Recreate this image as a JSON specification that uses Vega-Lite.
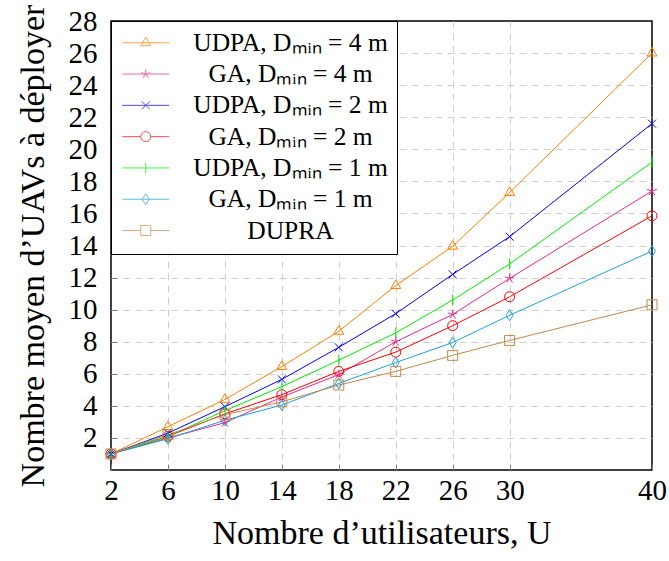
{
  "$schema": "https://vega.github.io/schema/vega-lite/v6.json",
  "autosize": {"type": "none"},
  "padding": {"left": 111, "top": 21, "right": 17, "bottom": 91},
  "width": 541,
  "height": 449,
  "background": "white",
  "config": {
    "font": "Liberation Serif",
    "view": {"stroke": "black", "strokeWidth": 1.5},
    "axis": {
      "labelFont": "Liberation Serif",
      "titleFont": "Liberation Serif",
      "labelColor": "black",
      "titleColor": "black",
      "titleFontWeight": "normal",
      "domain": false,
      "grid": true,
      "gridColor": "#cfcfcf",
      "gridDash": [7, 5],
      "gridWidth": 1,
      "tickColor": "#808080",
      "tickSize": -6
    }
  },
  "data": {
    "values": [
      {"s": "UDPA, Dₘᵢₙ = 4 m", "x": 2, "y": 1},
      {"s": "UDPA, Dₘᵢₙ = 4 m", "x": 6, "y": 2.7},
      {"s": "UDPA, Dₘᵢₙ = 4 m", "x": 10, "y": 4.4},
      {"s": "UDPA, Dₘᵢₙ = 4 m", "x": 14, "y": 6.45},
      {"s": "UDPA, Dₘᵢₙ = 4 m", "x": 18, "y": 8.65},
      {"s": "UDPA, Dₘᵢₙ = 4 m", "x": 22, "y": 11.5},
      {"s": "UDPA, Dₘᵢₙ = 4 m", "x": 26, "y": 13.95},
      {"s": "UDPA, Dₘᵢₙ = 4 m", "x": 30, "y": 17.3},
      {"s": "UDPA, Dₘᵢₙ = 4 m", "x": 40, "y": 26.0},
      {"s": "GA, Dₘᵢₙ = 4 m", "x": 2, "y": 1},
      {"s": "GA, Dₘᵢₙ = 4 m", "x": 6, "y": 2.0},
      {"s": "GA, Dₘᵢₙ = 4 m", "x": 10, "y": 2.95},
      {"s": "GA, Dₘᵢₙ = 4 m", "x": 14, "y": 4.55},
      {"s": "GA, Dₘᵢₙ = 4 m", "x": 18, "y": 5.95},
      {"s": "GA, Dₘᵢₙ = 4 m", "x": 22, "y": 8.0},
      {"s": "GA, Dₘᵢₙ = 4 m", "x": 26, "y": 9.7},
      {"s": "GA, Dₘᵢₙ = 4 m", "x": 30, "y": 11.95},
      {"s": "GA, Dₘᵢₙ = 4 m", "x": 40, "y": 17.4},
      {"s": "UDPA, Dₘᵢₙ = 2 m", "x": 2, "y": 1},
      {"s": "UDPA, Dₘᵢₙ = 2 m", "x": 6, "y": 2.3},
      {"s": "UDPA, Dₘᵢₙ = 2 m", "x": 10, "y": 3.95},
      {"s": "UDPA, Dₘᵢₙ = 2 m", "x": 14, "y": 5.65},
      {"s": "UDPA, Dₘᵢₙ = 2 m", "x": 18, "y": 7.65},
      {"s": "UDPA, Dₘᵢₙ = 2 m", "x": 22, "y": 9.75},
      {"s": "UDPA, Dₘᵢₙ = 2 m", "x": 26, "y": 12.2},
      {"s": "UDPA, Dₘᵢₙ = 2 m", "x": 30, "y": 14.55},
      {"s": "UDPA, Dₘᵢₙ = 2 m", "x": 40, "y": 21.6},
      {"s": "GA, Dₘᵢₙ = 2 m", "x": 2, "y": 1},
      {"s": "GA, Dₘᵢₙ = 2 m", "x": 6, "y": 2.1},
      {"s": "GA, Dₘᵢₙ = 2 m", "x": 10, "y": 3.5},
      {"s": "GA, Dₘᵢₙ = 2 m", "x": 14, "y": 4.7},
      {"s": "GA, Dₘᵢₙ = 2 m", "x": 18, "y": 6.15},
      {"s": "GA, Dₘᵢₙ = 2 m", "x": 22, "y": 7.35},
      {"s": "GA, Dₘᵢₙ = 2 m", "x": 26, "y": 9.0},
      {"s": "GA, Dₘᵢₙ = 2 m", "x": 30, "y": 10.8},
      {"s": "GA, Dₘᵢₙ = 2 m", "x": 40, "y": 15.85},
      {"s": "UDPA, Dₘᵢₙ = 1 m", "x": 2, "y": 1},
      {"s": "UDPA, Dₘᵢₙ = 1 m", "x": 6, "y": 2.1},
      {"s": "UDPA, Dₘᵢₙ = 1 m", "x": 10, "y": 3.7},
      {"s": "UDPA, Dₘᵢₙ = 1 m", "x": 14, "y": 5.2},
      {"s": "UDPA, Dₘᵢₙ = 1 m", "x": 18, "y": 6.85},
      {"s": "UDPA, Dₘᵢₙ = 1 m", "x": 22, "y": 8.55},
      {"s": "UDPA, Dₘᵢₙ = 1 m", "x": 26, "y": 10.6},
      {"s": "UDPA, Dₘᵢₙ = 1 m", "x": 30, "y": 12.85},
      {"s": "UDPA, Dₘᵢₙ = 1 m", "x": 40, "y": 19.2},
      {"s": "GA, Dₘᵢₙ = 1 m", "x": 2, "y": 1},
      {"s": "GA, Dₘᵢₙ = 1 m", "x": 6, "y": 1.95},
      {"s": "GA, Dₘᵢₙ = 1 m", "x": 10, "y": 3.1},
      {"s": "GA, Dₘᵢₙ = 1 m", "x": 14, "y": 4.05},
      {"s": "GA, Dₘᵢₙ = 1 m", "x": 18, "y": 5.4},
      {"s": "GA, Dₘᵢₙ = 1 m", "x": 22, "y": 6.7},
      {"s": "GA, Dₘᵢₙ = 1 m", "x": 26, "y": 7.95},
      {"s": "GA, Dₘᵢₙ = 1 m", "x": 30, "y": 9.65},
      {"s": "GA, Dₘᵢₙ = 1 m", "x": 40, "y": 13.65},
      {"s": "DUPRA", "x": 2, "y": 1},
      {"s": "DUPRA", "x": 6, "y": 2.2},
      {"s": "DUPRA", "x": 10, "y": 3.45},
      {"s": "DUPRA", "x": 14, "y": 4.25},
      {"s": "DUPRA", "x": 18, "y": 5.3},
      {"s": "DUPRA", "x": 22, "y": 6.15},
      {"s": "DUPRA", "x": 26, "y": 7.15},
      {"s": "DUPRA", "x": 30, "y": 8.08},
      {"s": "DUPRA", "x": 40, "y": 10.3}
    ]
  },
  "encoding": {
    "x": {
      "field": "x",
      "type": "quantitative",
      "scale": {"domain": [2, 40], "nice": false, "zero": false},
      "axis": {
        "values": [2, 6, 10, 14, 18, 22, 26, 30, 40],
        "title": "Nombre d’utilisateurs, U",
        "labelFontSize": 29,
        "titleFontSize": 34,
        "labelPadding": 12,
        "titlePadding": 11,
        "labelFlush": false,
        "gridOpacity": {"condition": {"test": "datum.value == 40 || datum.value == 2", "value": 0}, "value": 1}
      }
    },
    "y": {
      "field": "y",
      "type": "quantitative",
      "scale": {"domain": [0, 28], "nice": false},
      "axis": {
        "values": [2, 4, 6, 8, 10, 12, 14, 16, 18, 20, 22, 24, 26, 28],
        "title": "Nombre moyen d’UAVs à déployer",
        "labelFontSize": 29,
        "titleFontSize": 34,
        "labelPadding": 20,
        "titlePadding": 18,
        "labelFlush": false,
        "gridOpacity": {"condition": {"test": "datum.value == 28", "value": 0}, "value": 1}
      }
    }
  },
  "layer": [
    {
      "mark": {"type": "line", "strokeWidth": 1},
      "encoding": {
        "color": {
          "field": "s",
          "type": "nominal",
          "legend": null,
          "scale": {
            "domain": ["UDPA, Dₘᵢₙ = 4 m", "GA, Dₘᵢₙ = 4 m", "UDPA, Dₘᵢₙ = 2 m", "GA, Dₘᵢₙ = 2 m", "UDPA, Dₘᵢₙ = 1 m", "GA, Dₘᵢₙ = 1 m", "DUPRA"],
            "range": ["#FF8000", "#E8288C", "#0000FF", "#FF0000", "#00EE00", "#1CA0E0", "#C4874A"]
          }
        }
      }
    },
    {
      "mark": {"type": "point", "filled": false, "size": 100, "strokeWidth": 1, "opacity": 1},
      "encoding": {
        "color": {
          "field": "s",
          "type": "nominal",
          "legend": null,
          "scale": {
            "domain": ["UDPA, Dₘᵢₙ = 4 m", "GA, Dₘᵢₙ = 4 m", "UDPA, Dₘᵢₙ = 2 m", "GA, Dₘᵢₙ = 2 m", "UDPA, Dₘᵢₙ = 1 m", "GA, Dₘᵢₙ = 1 m", "DUPRA"],
            "range": ["#FF8000", "#E8288C", "#0000FF", "#FF0000", "#00EE00", "#1CA0E0", "#C4874A"]
          }
        },
        "shape": {
          "field": "s",
          "type": "nominal",
          "legend": null,
          "scale": {
            "domain": ["UDPA, Dₘᵢₙ = 4 m", "GA, Dₘᵢₙ = 4 m", "UDPA, Dₘᵢₙ = 2 m", "GA, Dₘᵢₙ = 2 m", "UDPA, Dₘᵢₙ = 1 m", "GA, Dₘᵢₙ = 1 m", "DUPRA"],
            "range": [
              "M0,-1.15L1,0.58L-1,0.58Z",
              "M0,0L0,-1M0,0L-0.95,-0.31M0,0L-0.59,0.81M0,0L0.59,0.81M0,0L0.95,-0.31",
              "M-0.8,-0.8L0.8,0.8M-0.8,0.8L0.8,-0.8",
              "M1,0A1,1,0,1,1,-1,0A1,1,0,1,1,1,0Z",
              "M0,-1.1L0,1.1",
              "M0,-1.1L0.7,0L0,1.1L-0.7,0Z",
              "M-1,-1H1V1H-1Z"
            ]
          }
        }
      }
    },
    {
      "transform": [{"filter": "datum.x < 0"}],
      "mark": {"type": "point", "filled": false, "size": 100, "strokeWidth": 1},
      "encoding": {
        "color": {
          "field": "s",
          "type": "nominal",
          "scale": {
            "domain": ["UDPA, Dₘᵢₙ = 4 m", "GA, Dₘᵢₙ = 4 m", "UDPA, Dₘᵢₙ = 2 m", "GA, Dₘᵢₙ = 2 m", "UDPA, Dₘᵢₙ = 1 m", "GA, Dₘᵢₙ = 1 m", "DUPRA"],
            "range": ["#FF8000", "#E8288C", "#0000FF", "#FF0000", "#00EE00", "#1CA0E0", "#C4874A"]
          },
          "legend": {
            "orient": "none", "legendX": 0, "legendY": 0, "title": null,
            "fillColor": "white", "strokeColor": "black", "padding": 9,
            "symbolOffset": 13, "labelOffset": 132, "labelAlign": "center",
            "labelFontSize": 25.5, "labelFont": "Liberation Serif", "labelColor": "black",
            "labelLimit": 400, "rowPadding": 4.3, "symbolSize": 100, "symbolStrokeWidth": 1
          }
        },
        "shape": {
          "field": "s",
          "type": "nominal",
          "scale": {
            "domain": ["UDPA, Dₘᵢₙ = 4 m", "GA, Dₘᵢₙ = 4 m", "UDPA, Dₘᵢₙ = 2 m", "GA, Dₘᵢₙ = 2 m", "UDPA, Dₘᵢₙ = 1 m", "GA, Dₘᵢₙ = 1 m", "DUPRA"],
            "range": [
              "M-4.7,0H4.7M0,-1.15L1,0.58L-1,0.58Z",
              "M-4.7,0H4.7M0,0L0,-1M0,0L-0.95,-0.31M0,0L-0.59,0.81M0,0L0.59,0.81M0,0L0.95,-0.31",
              "M-4.7,0H4.7M-0.8,-0.8L0.8,0.8M-0.8,0.8L0.8,-0.8",
              "M-4.7,0H-1M1,0H4.7M1,0A1,1,0,1,1,-1,0A1,1,0,1,1,1,0Z",
              "M-4.7,0H4.7M0,-1.1L0,1.1",
              "M-4.7,0H4.7M0,-1.1L0.7,0L0,1.1L-0.7,0Z",
              "M-4.7,0H-1M1,0H4.7M-1,-1H1V1H-1Z"
            ]
          },
          "legend": {
            "orient": "none", "legendX": 0, "legendY": 0, "title": null,
            "fillColor": "white", "strokeColor": "black", "padding": 9,
            "symbolOffset": 13, "labelOffset": 132, "labelAlign": "center",
            "labelFontSize": 25.5, "labelFont": "Liberation Serif", "labelColor": "black",
            "labelLimit": 400, "rowPadding": 4.3, "symbolSize": 100, "symbolStrokeWidth": 1
          }
        }
      }
    }
  ],
  "resolve": {"scale": {"shape": "independent", "color": "independent"}}
}
